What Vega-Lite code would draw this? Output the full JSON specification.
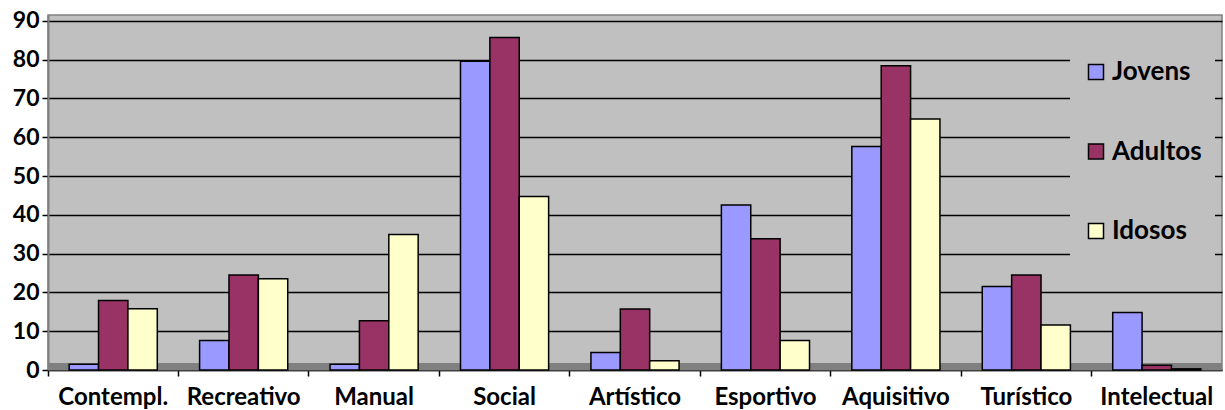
{
  "$schema": "https://vega.github.io/schema/vega-lite/v6.json",
  "width": 1174,
  "height": 355,
  "autosize": "none",
  "padding": {"left": 48, "top": 15, "right": 3, "bottom": 40},
  "config": {
    "view": {"fill": "#C0C0C0", "stroke": "#808080", "strokeWidth": 1.5},
    "font": "Lato",
    "axisY": {
      "grid": true,
      "gridColor": "black",
      "gridWidth": 1.5,
      "domainColor": "#808080",
      "domainWidth": 2,
      "tickColor": "black",
      "tickSize": 6,
      "tickWidth": 1.5,
      "labelFontSize": 23,
      "labelFontWeight": "bold",
      "labelColor": "black",
      "labelPadding": 3
    }
  },
  "datasets": {
    "main": [
      {"cat": "Contempl.", "grp": "Jovens", "v": 1.5},
      {"cat": "Contempl.", "grp": "Adultos", "v": 17.9},
      {"cat": "Contempl.", "grp": "Idosos", "v": 15.8},
      {"cat": "Recreativo", "grp": "Jovens", "v": 7.6},
      {"cat": "Recreativo", "grp": "Adultos", "v": 24.5},
      {"cat": "Recreativo", "grp": "Idosos", "v": 23.5},
      {"cat": "Manual", "grp": "Jovens", "v": 1.5},
      {"cat": "Manual", "grp": "Adultos", "v": 12.7},
      {"cat": "Manual", "grp": "Idosos", "v": 34.9},
      {"cat": "Social", "grp": "Jovens", "v": 79.6},
      {"cat": "Social", "grp": "Adultos", "v": 85.7},
      {"cat": "Social", "grp": "Idosos", "v": 44.7},
      {"cat": "Artístico", "grp": "Jovens", "v": 4.5},
      {"cat": "Artístico", "grp": "Adultos", "v": 15.7},
      {"cat": "Artístico", "grp": "Idosos", "v": 2.4},
      {"cat": "Esportivo", "grp": "Jovens", "v": 42.5},
      {"cat": "Esportivo", "grp": "Adultos", "v": 33.8},
      {"cat": "Esportivo", "grp": "Idosos", "v": 7.6},
      {"cat": "Aquisitivo", "grp": "Jovens", "v": 57.6},
      {"cat": "Aquisitivo", "grp": "Adultos", "v": 78.4},
      {"cat": "Aquisitivo", "grp": "Idosos", "v": 64.7},
      {"cat": "Turístico", "grp": "Jovens", "v": 21.5},
      {"cat": "Turístico", "grp": "Adultos", "v": 24.5},
      {"cat": "Turístico", "grp": "Idosos", "v": 11.6},
      {"cat": "Intelectual", "grp": "Jovens", "v": 14.8},
      {"cat": "Intelectual", "grp": "Adultos", "v": 1.2},
      {"cat": "Intelectual", "grp": "Idosos", "v": 0.3}
    ],
    "floor": [{"lo": 0, "hi": 1.8}]
  },
  "layer": [
    {
      "data": {"name": "floor"},
      "mark": {"type": "rect", "color": "#808080"},
      "encoding": {
        "y": {
          "field": "lo",
          "type": "quantitative",
          "scale": {"domain": [0, 91.5], "nice": false},
          "axis": {"title": null, "values": [0, 10, 20, 30, 40, 50, 60, 70, 80, 90]}
        },
        "y2": {"field": "hi"}
      }
    },
    {
      "data": {"name": "main"},
      "mark": {"type": "bar", "stroke": "black", "strokeWidth": 1.5},
      "encoding": {
        "x": {
          "field": "cat",
          "type": "nominal",
          "sort": ["Contempl.", "Recreativo", "Manual", "Social", "Artístico", "Esportivo", "Aquisitivo", "Turístico", "Intelectual"],
          "scale": {"paddingInner": 0, "paddingOuter": 0},
          "axis": {
            "title": null,
            "labelAngle": 0,
            "bandPosition": 0,
            "labelFontSize": 24,
            "labelFontWeight": "bold",
            "labelColor": "black",
            "labelPadding": 9,
            "tickSize": 6,
            "tickColor": "black",
            "tickWidth": 1.5,
            "domainColor": "#404040",
            "domainWidth": 1.5
          }
        },
        "xOffset": {
          "field": "grp",
          "type": "nominal",
          "sort": ["Jovens", "Adultos", "Idosos"],
          "scale": {"paddingInner": 0, "paddingOuter": 0.72}
        },
        "y": {
          "field": "v",
          "type": "quantitative",
          "scale": {"domain": [0, 91.5], "nice": false},
          "axis": {"title": null, "values": [0, 10, 20, 30, 40, 50, 60, 70, 80, 90]}
        },
        "color": {
          "field": "grp",
          "type": "nominal",
          "sort": ["Jovens", "Adultos", "Idosos"],
          "scale": {"domain": ["Jovens", "Adultos", "Idosos"], "range": ["#9999FF", "#993366", "#FFFFCC"]},
          "legend": {
            "title": null,
            "orient": "none",
            "legendX": 1022,
            "legendY": 31,
            "fillColor": "#C0C0C0",
            "padding": 13,
            "symbolType": "square",
            "symbolSize": 225,
            "symbolStrokeColor": "black",
            "symbolStrokeWidth": 1.5,
            "symbolOpacity": 1,
            "labelFontSize": 26,
            "labelFontWeight": "bold",
            "labelColor": "black",
            "labelOffset": 3,
            "rowPadding": 53.5
          }
        }
      }
    }
  ]
}
